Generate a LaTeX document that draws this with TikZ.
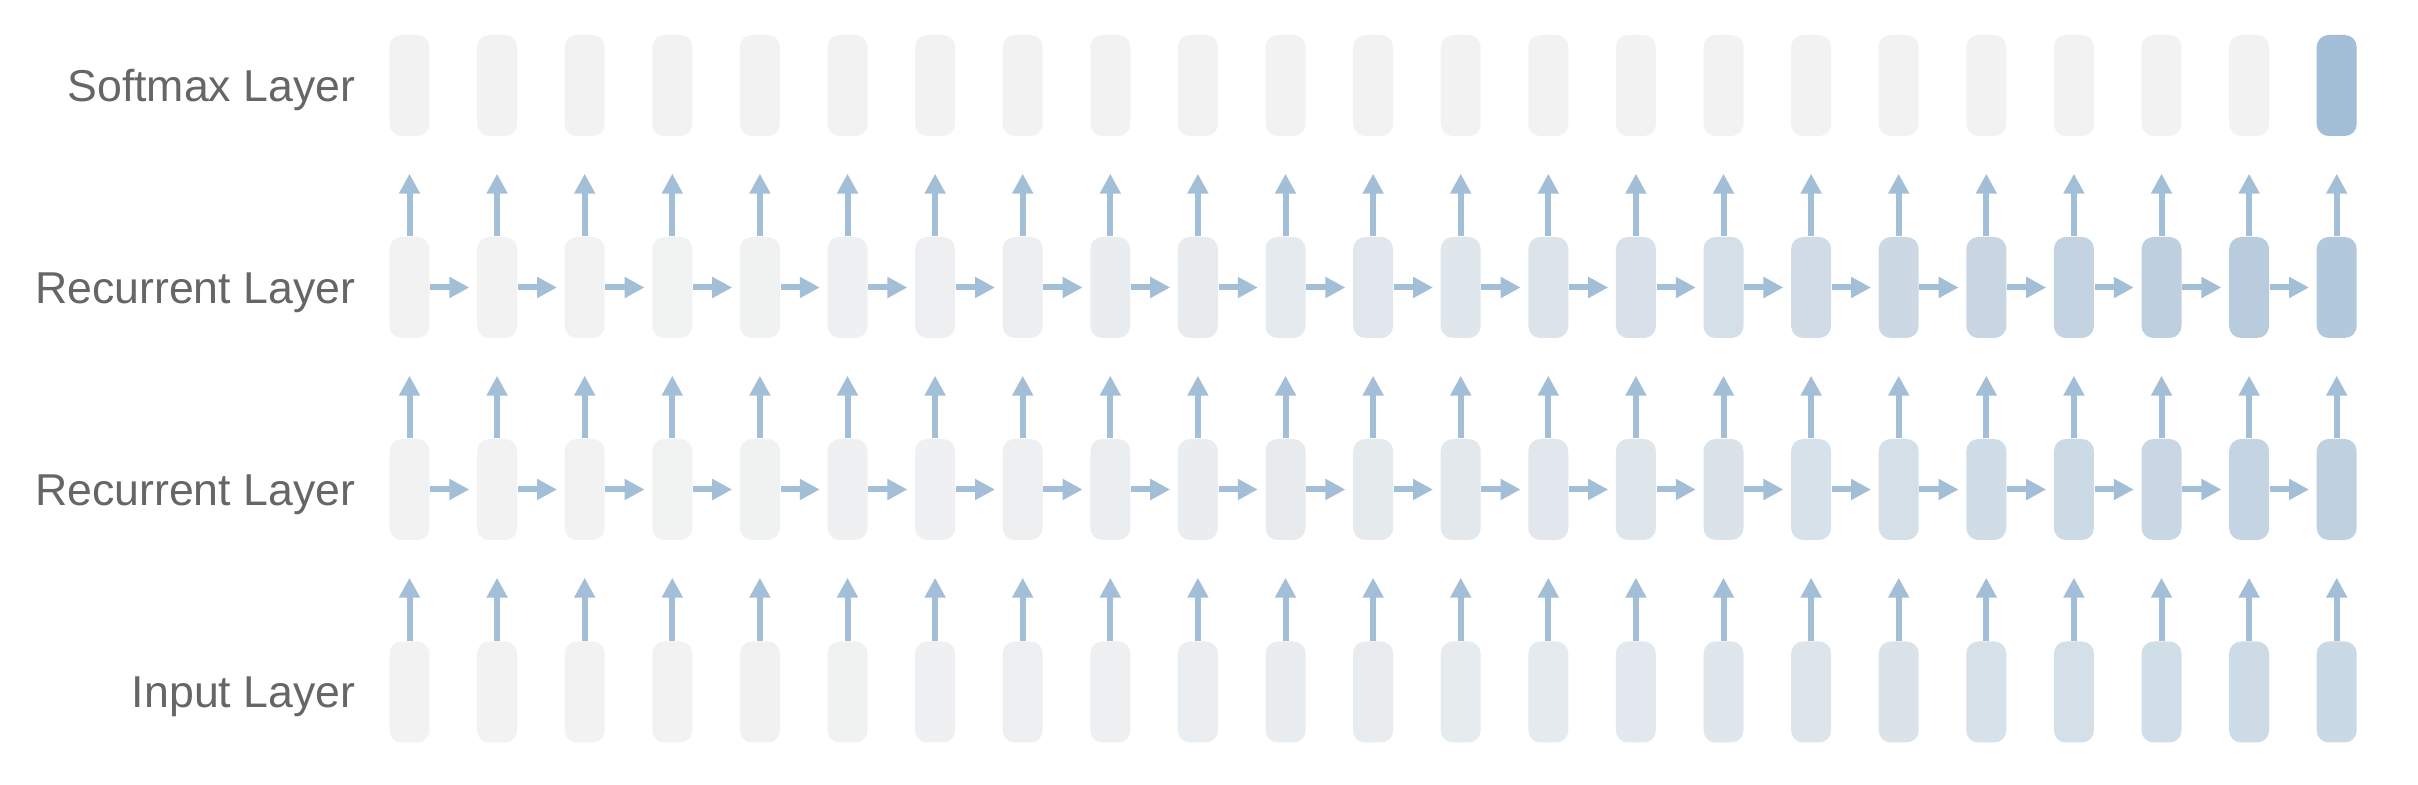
\documentclass[tikz,border=0pt]{standalone}
\usepackage{fontspec}
\setmainfont{Liberation Sans}
\usetikzlibrary{arrows.meta}
\definecolor{cellgray}{HTML}{F2F2F2}
\definecolor{linkblue}{HTML}{A3BFD7}
\definecolor{topblue}{HTML}{B2C8DC}
\definecolor{midblue}{HTML}{BFD1E0}
\definecolor{lowblue}{HTML}{C9D9E5}
\definecolor{labelgray}{HTML}{666666}
\begin{document}
\begin{tikzpicture}[x=1cm,y=1cm,
  cell/.style={minimum width=0.4cm,minimum height=1.01cm,inner sep=0pt,rounded corners=0.12cm},
  link/.style={draw=linkblue,line width=0.06cm,-{Triangle[length=0.2cm,width=0.2cm,fill=linkblue]}},
  layername/.style={anchor=base east,inner sep=0pt,text=labelgray,font=\fontsize{12.7}{15}\selectfont}]
\useasboundingbox (0,0) rectangle (24.18,7.85);
\node[layername] (softname) at (3.56,6.835) {Softmax Layer};
\node[layername] (recAname) at (3.56,4.815) {Recurrent Layer};
\node[layername] (recBname) at (3.56,2.795) {Recurrent Layer};
\node[layername] (inname) at (3.56,0.77) {Input Layer};
\foreach \col in {0,...,22} {
  \pgfmathsetmacro{\xpos}{4.095+0.876*\col}
  \pgfmathtruncatemacro{\tint}{100*(\col/22)^2}
  \node[cell,fill=lowblue!\tint!cellgray] (in\col) at (\xpos,0.93) {};
  \node[cell,fill=midblue!\tint!cellgray] (recB\col) at (\xpos,2.955) {};
  \node[cell,fill=topblue!\tint!cellgray] (recA\col) at (\xpos,4.975) {};
  \node[cell,fill=cellgray] (soft\col) at (\xpos,6.995) {};
  \draw[link,shorten >=0.37cm] (in\col.north) -- (recB\col.south);
  \draw[link,shorten >=0.37cm] (recB\col.north) -- (recA\col.south);
  \draw[link,shorten >=0.37cm] (recA\col.north) -- (soft\col.south);
}
\node[cell,fill=linkblue] (soft22) at (soft22) {};
\foreach \col in {0,...,21} {
  \pgfmathtruncatemacro{\nxt}{\col+1}
  \draw[link,shorten >=0.07cm] (recB\col.east) -- (recB\nxt.west);
  \draw[link,shorten >=0.07cm] (recA\col.east) -- (recA\nxt.west);
}
\end{tikzpicture}
\end{document}
